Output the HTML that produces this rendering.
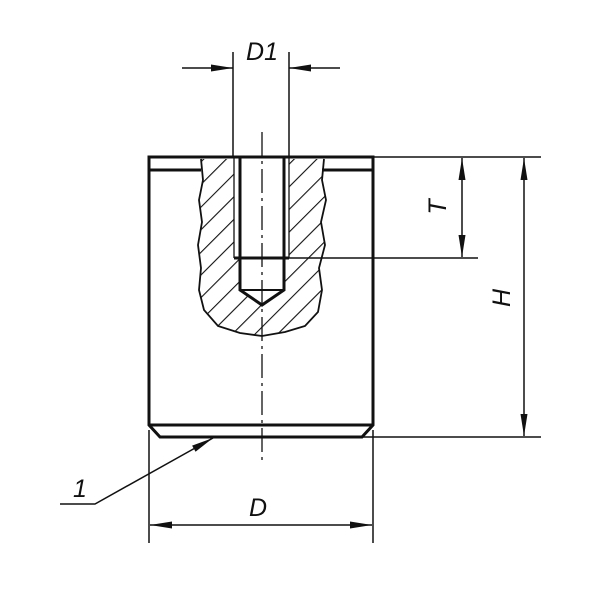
<!DOCTYPE html>
<html><head><style>html,body{margin:0;padding:0;background:#fff}svg{display:block}</style></head>
<body>
<svg width="600" height="600" viewBox="0 0 600 600" xmlns="http://www.w3.org/2000/svg">
<defs>
<pattern id="h" patternUnits="userSpaceOnUse" width="16" height="16" patternTransform="rotate(45)">
<line x1="0" y1="0" x2="0" y2="16" stroke="#111" stroke-width="2.2"/>
</pattern>
<clipPath id="c"><path d="M201,159 L203,180 L199,200 L202,222 L198,245 L201,268 L199,290 L204,310 L218,326 L240,333 L262,336 L285,332 L305,326 L318,312 L322,290 L319,268 L325,245 L321,222 L326,200 L322,180 L324,159 Z"/></clipPath>
<marker id="a" viewBox="0 0 22 8" refX="22" refY="4" markerWidth="22" markerHeight="8" markerUnits="userSpaceOnUse" orient="auto-start-reverse"><path d="M0,0.5 L22,4 L0,7.5Z" fill="#111"/></marker>
</defs>
<g stroke="#111" fill="none">
<rect x="190" y="155" width="145" height="190" fill="url(#h)" stroke="none" clip-path="url(#c)"/>
<path d="M201,159 L203,180 L199,200 L202,222 L198,245 L201,268 L199,290 L204,310 L218,326 L240,333 L262,336 L285,332 L305,326 L318,312 L322,290 L319,268 L325,245 L321,222 L326,200 L322,180 L324,159" stroke-width="1.8"/>
<path d="M234,158 L289,158 L289,258 L284,258 L284,290 L262,305 L240,290 L240,258 L234,258 Z" fill="#fff" stroke="none"/>
<path d="M149,157 L373,157 L373,425 L362,437 L160,437 L149,425 Z" stroke-width="3"/>
<line x1="149" y1="170" x2="201" y2="170" stroke-width="3"/>
<line x1="322" y1="170" x2="373" y2="170" stroke-width="3"/>
<line x1="149" y1="425" x2="373" y2="425" stroke-width="3"/>
<path d="M240,158 L240,290 L262,305 L284,290 L284,158" stroke-width="3"/>
<line x1="240" y1="290" x2="284" y2="290" stroke-width="2"/>
<line x1="234" y1="158" x2="234" y2="258" stroke-width="1.3"/>
<line x1="289" y1="158" x2="289" y2="258" stroke-width="1.3"/>
<line x1="234" y1="258" x2="289" y2="258" stroke-width="3"/>
<line x1="262" y1="132" x2="262" y2="462" stroke-width="1.3" stroke-dasharray="24,5,3,5"/>
<line x1="233" y1="52" x2="233" y2="158" stroke-width="1.5"/>
<line x1="289" y1="52" x2="289" y2="158" stroke-width="1.5"/>
<line x1="182" y1="68" x2="233" y2="68" stroke-width="1.5" marker-end="url(#a)"/>
<line x1="340" y1="68" x2="289" y2="68" stroke-width="1.5" marker-end="url(#a)"/>
<line x1="373" y1="157" x2="541" y2="157" stroke-width="1.5"/>
<line x1="289" y1="258" x2="478" y2="258" stroke-width="1.5"/>
<line x1="362" y1="437" x2="541" y2="437" stroke-width="1.5"/>
<line x1="462" y1="158" x2="462" y2="257" stroke-width="1.5" marker-start="url(#a)" marker-end="url(#a)"/>
<line x1="524" y1="158" x2="524" y2="436" stroke-width="1.5" marker-start="url(#a)" marker-end="url(#a)"/>
<line x1="149" y1="430" x2="149" y2="543" stroke-width="1.5"/>
<line x1="373" y1="430" x2="373" y2="543" stroke-width="1.5"/>
<line x1="150" y1="525" x2="372" y2="525" stroke-width="1.5" marker-start="url(#a)" marker-end="url(#a)"/>
<polyline points="60,504 95,504 213,438" stroke-width="1.5" marker-end="url(#a)"/>
</g>
<g font-family="Liberation Sans, sans-serif" font-style="italic" font-size="25" fill="#111" text-anchor="middle">
<text x="262" y="60">D1</text>
<text x="258" y="516">D</text>
<text x="80" y="497">1</text>
<text transform="translate(446,207) rotate(-90)">T</text>
<text transform="translate(510,298) rotate(-90)">H</text>
</g>
</svg>
</body></html>
